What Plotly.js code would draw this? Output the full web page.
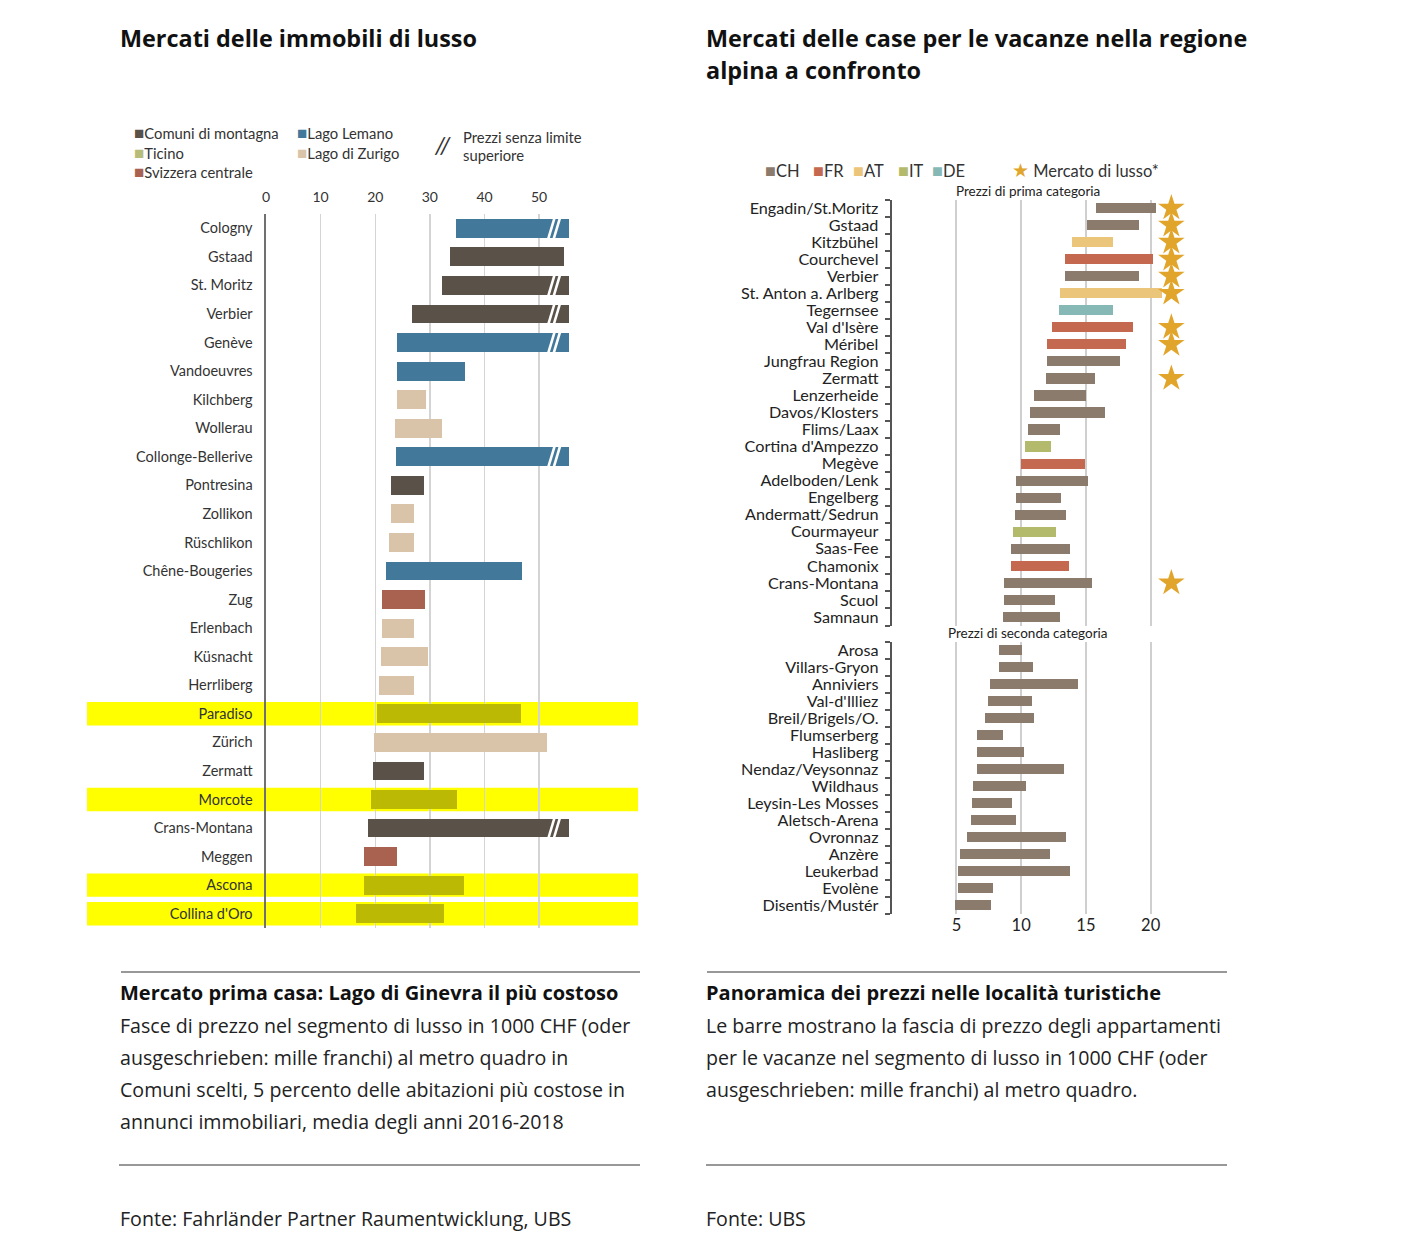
<!DOCTYPE html>
<html>
<head>
<meta charset="utf-8">
<script src="https://cdn.plot.ly/plotly-3.0.1.min.js"></script>
<style>
html,body{margin:0;padding:0;background:#fff;}
#chart{width:1408px;height:1248px;}
</style>
</head>
<body>
<div id="chart"></div>
<script>
// ---------- Left chart data ----------
const leftCities = ["Cologny","Gstaad","St. Moritz","Verbier","Genève","Vandoeuvres","Kilchberg","Wollerau","Collonge-Bellerive","Pontresina","Zollikon","Rüschlikon","Chêne-Bougeries","Zug","Erlenbach","Küsnacht","Herrliberg","Paradiso","Zürich","Zermatt","Morcote","Crans-Montana","Meggen","Ascona","Collina d'Oro"];
const leftRegion = ["Lemano","Montagna","Montagna","Montagna","Lemano","Lemano","Zurigo","Zurigo","Lemano","Montagna","Zurigo","Zurigo","Lemano","Centrale","Zurigo","Zurigo","Zurigo","Ticino","Zurigo","Montagna","Ticino","Montagna","Centrale","Ticino","Ticino"];
const leftLow  = [34.7,33.7,32.2,26.8,23.9,23.9,23.9,23.7,23.8,22.8,22.8,22.5,22.0,21.2,21.2,21.0,20.6,20.3,19.8,19.6,19.2,18.7,18.0,18.0,16.4];
const leftHigh = [55.5,54.6,55.5,55.5,55.5,36.4,29.2,32.2,55.5,28.9,27.1,27.1,46.8,29.1,27.1,29.6,27.1,46.7,51.4,28.9,35.0,55.5,23.9,36.2,32.5];
const leftOpen = [true,false,true,true,true,false,false,false,true,false,false,false,false,false,false,false,false,false,false,false,false,true,false,false,false];
const leftTicks = [0,10,20,30,40,50];

// ---------- Right chart data ----------
const topCities = ["Engadin/St.Moritz","Gstaad","Kitzbühel","Courchevel","Verbier","St. Anton a. Arlberg","Tegernsee","Val d'Isère","Méribel","Jungfrau Region","Zermatt","Lenzerheide","Davos/Klosters","Flims/Laax","Cortina d'Ampezzo","Megève","Adelboden/Lenk","Engelberg","Andermatt/Sedrun","Courmayeur","Saas-Fee","Chamonix","Crans-Montana","Scuol","Samnaun"];
const topCountry = ["CH","CH","AT","FR","CH","AT","DE","FR","FR","CH","CH","CH","CH","CH","IT","FR","CH","CH","CH","IT","CH","FR","CH","CH","CH"];
const topLow  = [15.8,15.1,13.9,13.4,13.4,13.0,12.9,12.4,12.0,12.0,11.9,11.0,10.7,10.5,10.3,10.0,9.6,9.6,9.5,9.4,9.2,9.2,8.7,8.7,8.6];
const topHigh = [20.4,19.1,17.1,20.2,19.1,20.9,17.1,18.6,18.1,17.6,15.7,15.0,16.5,13.0,12.3,14.9,15.2,13.1,13.5,12.7,13.8,13.7,15.5,12.6,13.0];
const topLuxury = [true,true,true,true,true,true,false,true,true,false,true,false,false,false,false,false,false,false,false,false,false,false,true,false,false];

const botCities = ["Arosa","Villars-Gryon","Anniviers","Val-d'Illiez","Breil/Brigels/O.","Flumserberg","Hasliberg","Nendaz/Veysonnaz","Wildhaus","Leysin-Les Mosses","Aletsch-Arena","Ovronnaz","Anzère","Leukerbad","Evolène","Disentis/Mustér"];
const botCountry = ["CH","CH","CH","CH","CH","CH","CH","CH","CH","CH","CH","CH","CH","CH","CH","CH"];
const botLow  = [8.3,8.3,7.6,7.4,7.2,6.6,6.6,6.6,6.3,6.2,6.1,5.8,5.3,5.1,5.1,4.9];
const botHigh = [10.1,10.9,14.4,10.8,11.0,8.6,10.2,13.3,10.4,9.3,9.6,13.5,12.2,13.8,7.8,7.7];
const rightTicks = [5,10,15,20];

// ---------- styles ----------
const leftColors = {Montagna:"#5a5148", Lemano:"#42799b", Ticino:"#bcb904", Zurigo:"#d9c4aa", Centrale:"#a9624f"};
const leftLegendColors = {Montagna:"#5a5148", Lemano:"#42799b", Ticino:"#b7bd78", Zurigo:"#d9c4aa", Centrale:"#a9624f"};
const countryColors = {CH:"#8b7b6c", FR:"#c4694f", AT:"#ebc67a", IT:"#b4ba6c", DE:"#86b9b6"};
const starColor = "#e2a52c";
const FONT = "Lato, 'Liberation Sans', Arial, sans-serif";
const TFONT = "'Open Sans', 'Noto Sans', Arial, sans-serif";

const W = 1408, H = 1248;
const px = v => v / W;
const py = v => 1 - v / H;

const traces = [];
traces.push({
  type:"bar", orientation:"h", xaxis:"x", yaxis:"y",
  y: leftCities, base: leftLow, x: leftHigh.map((h,i)=>h-leftLow[i]),
  marker:{color: leftRegion.map(r=>leftColors[r]), line:{width:0}},
  width:0.66, hoverinfo:"skip", showlegend:false
});
traces.push({
  type:"bar", orientation:"h", xaxis:"x2", yaxis:"y2",
  y: topCities, base: topLow, x: topHigh.map((h,i)=>h-topLow[i]),
  marker:{color: topCountry.map(c=>countryColors[c]), line:{width:0}},
  width:0.6, hoverinfo:"skip", showlegend:false
});
const starX = 21.6;
traces.push({
  type:"scatter", mode:"markers", xaxis:"x2", yaxis:"y2",
  y: topCities.filter((c,i)=>topLuxury[i]),
  x: topCities.filter((c,i)=>topLuxury[i]).map(()=>starX),
  marker:{symbol:"star", size:20, color:starColor, line:{width:0}},
  cliponaxis:false, hoverinfo:"skip", showlegend:false
});
traces.push({
  type:"bar", orientation:"h", xaxis:"x3", yaxis:"y3",
  y: botCities, base: botLow, x: botHigh.map((h,i)=>h-botLow[i]),
  marker:{color: botCountry.map(c=>countryColors[c]), line:{width:0}},
  width:0.6, hoverinfo:"skip", showlegend:false
});

const shapes = [];
// Ticino highlight bands
leftRegion.forEach((r,i)=>{
  if (r === "Ticino") {
    shapes.push({type:"rect", xref:"paper", yref:"y", x0:px(87), x1:px(638), y0:i-0.41, y1:i+0.41,
      fillcolor:"#ffff00", line:{width:0}, layer:"below"});
  }
});
// break marks ("//") on open-ended bars
const breakX = 51.5;
leftOpen.forEach((o,i)=>{
  if (o) {
    [0, 1.0].forEach(d=>{
      shapes.push({type:"line", xref:"x", yref:"y", x0:breakX+d, x1:breakX+d+1.5, y0:i+0.48, y1:i-0.48,
        line:{color:"#ffffff", width:2.6}, layer:"above"});
    });
  }
});
// rule lines
[[121,640,972],[119,640,1165],[707,1227,972],[706,1227,1165]].forEach(([a,b,y])=>{
  shapes.push({type:"line", xref:"paper", yref:"paper", x0:px(a), x1:px(b), y0:py(y), y1:py(y),
    line:{color:"#333", width:1.2}});
});

const ann = [];
function txt(x, y, text, opts={}) {
  ann.push(Object.assign({xref:"paper", yref:"paper", x:px(x), y:py(y), text:text, showarrow:false,
    xanchor:"left", yanchor:"middle", font:{family:FONT, size:14, color:"#333"}}, opts));
}

// Titles
const titleFont = {family:TFONT, size:23.4, color:"#111"};
txt(118, 38, "<b>Mercati delle immobili di lusso</b>", {font:titleFont});
txt(704, 38, "<b>Mercati delle case per le vacanze nella regione</b>", {font:titleFont});
txt(704, 70, "<b>alpina a confronto</b>", {font:titleFont});

// Left legend
const sq = c => `<span style="color:${c};font-size:17px">■</span>`;
const lf = {family:FONT, size:14.8, color:"#333"};
txt(132, 133, sq(leftLegendColors.Montagna) + "Comuni di montagna", {font:lf});
txt(295, 133, sq(leftLegendColors.Lemano) + "Lago Lemano", {font:lf});
txt(132, 152, sq(leftLegendColors.Ticino) + "Ticino", {font:lf});
txt(295, 152, sq(leftLegendColors.Zurigo) + "Lago di Zurigo", {font:lf});
txt(132, 172, sq(leftLegendColors.Centrale) + "Svizzera centrale", {font:lf});
txt(432, 144, "<i>//</i>", {font:{family:FONT, size:24, color:"#333"}});
txt(461, 137, "Prezzi senza limite", {font:lf});
txt(461, 155, "superiore", {font:lf});

// Right legend
const sqr = c => `<span style="color:${c};font-size:18px">■</span>`;
const legItems = [["CH",763],["FR",811],["AT",851],["IT",896],["DE",930]];
legItems.forEach(([c,x])=>{
  txt(x, 170, sqr(countryColors[c]) + c, {font:{family:FONT, size:16.5, color:"#333"}});
});
txt(1010, 170, `<span style="color:${starColor};font-size:19px">★</span> Mercato di lusso*`, {font:{family:FONT, size:16.5, color:"#333"}});
txt(1028, 191, "Prezzi di prima categoria", {xanchor:"center", font:{family:FONT, size:13.5, color:"#222"}});
txt(1028, 633, "Prezzi di seconda categoria", {xanchor:"center", font:{family:FONT, size:13.5, color:"#222"}});

// Captions
const capFont = {family:TFONT, size:19.6, color:"#222"};
const capBold = {family:TFONT, size:20, color:"#111"};
txt(118, 993, "<b>Mercato prima casa: Lago di Ginevra il più costoso</b>", {font:capBold});
["Fasce di prezzo nel segmento di lusso in 1000 CHF (oder",
 "ausgeschrieben: mille franchi) al metro quadro in",
 "Comuni scelti, 5 percento delle abitazioni più costose in",
 "annunci immobiliari, media degli anni 2016-2018"].forEach((l,i)=>txt(118, 1025+32*i, l, {font:capFont}));
txt(118, 1218, "Fonte: Fahrländer Partner Raumentwicklung, UBS", {font:capFont});

txt(704, 993, "<b>Panoramica dei prezzi nelle località turistiche</b>", {font:capBold});
["Le barre mostrano la fascia di prezzo degli appartamenti",
 "per le vacanze nel segmento di lusso in 1000 CHF (oder",
 "ausgeschrieben: mille franchi) al metro quadro."].forEach((l,i)=>txt(704, 1025+32*i, l, {font:capFont}));
txt(704, 1218, "Fonte: UBS", {font:capFont});

const layout = {
  width: W, height: H, margin:{l:0,r:0,t:0,b:0},
  paper_bgcolor:"#fff", plot_bgcolor:"rgba(0,0,0,0)",
  font:{family:FONT, color:"#333"},
  showlegend:false, bargap:0,
  xaxis:{domain:[px(266), px(638)], range:[0, 68.1], anchor:"y", side:"top",
    tickvals:leftTicks, ticks:"", showgrid:true, gridcolor:"#d4d4d4", gridwidth:1.5,
    zeroline:false, showline:false, tickfont:{family:FONT, size:14, color:"#333"}, ticklabelstandoff:8, fixedrange:true},
  yaxis:{domain:[py(928), py(214)], anchor:"x", type:"category", categoryorder:"array", categoryarray:leftCities,
    tickmode:"array", tickvals:leftCities, ticktext:leftCities,
    range:[leftCities.length-0.5, -0.5], showline:true, linecolor:"#707070", linewidth:2.5, ticks:"", showgrid:false,
    tickfont:{family:FONT, size:14.5, color:"#333"}, ticklabelstandoff:8, fixedrange:true},
  xaxis2:{domain:[px(891.7), px(1183)], range:[0, 22.5], anchor:"y2", tickvals:rightTicks, showticklabels:false,
    ticks:"", showgrid:true, gridcolor:"#cfcfcf", gridwidth:2, zeroline:false, showline:false, fixedrange:true},
  yaxis2:{domain:[py(625.5), py(199.5)], anchor:"x2", type:"category", categoryorder:"array", categoryarray:topCities,
    tickmode:"array", tickvals:topCities, ticktext:topCities,
    range:[topCities.length-0.5, -0.5], showline:true, linecolor:"#555", linewidth:2, ticks:"outside", tickson:"boundaries",
    ticklen:5, tickwidth:2, tickcolor:"#555", showgrid:false,
    tickfont:{family:FONT, size:16.2, color:"#222"}, ticklabelstandoff:8, fixedrange:true},
  xaxis3:{domain:[px(891.7), px(1183)], range:[0, 22.5], anchor:"y3", tickvals:rightTicks,
    ticks:"", showgrid:true, gridcolor:"#cfcfcf", gridwidth:2, zeroline:false, showline:false,
    tickfont:{family:FONT, size:16.5, color:"#222"}, ticklabelstandoff:0, fixedrange:true},
  yaxis3:{domain:[py(913.5), py(641.5)], anchor:"x3", type:"category", categoryorder:"array", categoryarray:botCities,
    tickmode:"array", tickvals:botCities, ticktext:botCities,
    range:[botCities.length-0.5, -0.5], showline:true, linecolor:"#555", linewidth:2, ticks:"outside", tickson:"boundaries",
    ticklen:5, tickwidth:2, tickcolor:"#555", showgrid:false,
    tickfont:{family:FONT, size:16.2, color:"#222"}, ticklabelstandoff:8, fixedrange:true},
  shapes: shapes,
  annotations: ann
};

Plotly.newPlot("chart", traces, layout, {staticPlot:true, displayModeBar:false});
</script>
</body>
</html>
